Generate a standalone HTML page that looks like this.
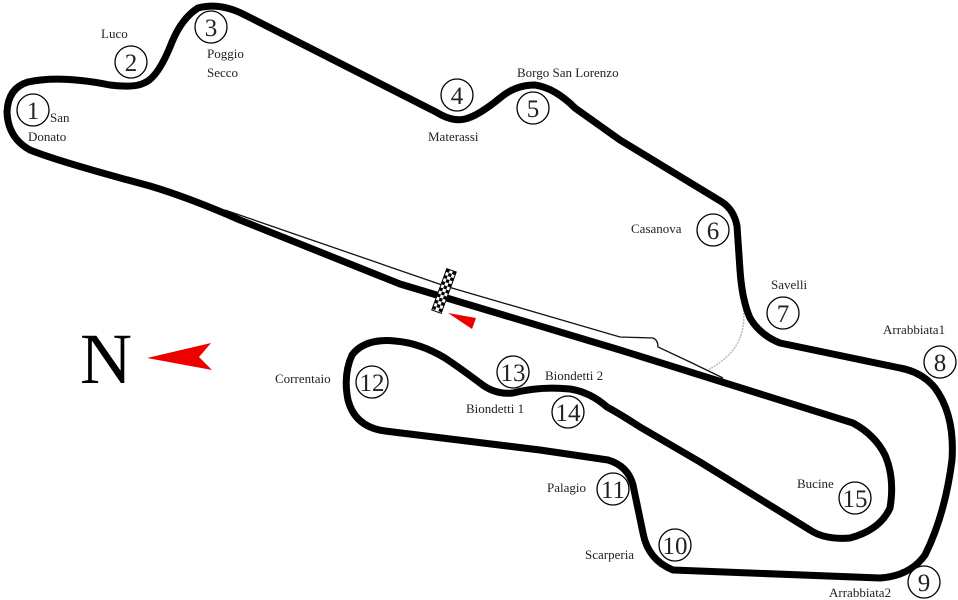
<!DOCTYPE html>
<html><head><meta charset="utf-8"><style>
html,body{margin:0;padding:0;background:#fff;}
svg{display:block;}
text{font-family:"Liberation Serif",serif;fill:#222;}
.l{font-size:13px;}
.n{font-size:25px;text-anchor:middle;}
</style></head><body>
<svg width="958" height="600" viewBox="0 0 958 600" xmlns="http://www.w3.org/2000/svg">
<!-- pit lane -->
<path d="M225,210 L445,286 L620,337 L653,338 Q658,340 658,347 L690,362 L723,378" fill="none" stroke="#111" stroke-width="1.3"/>
<path d="M742,298 Q746,320 741,335 Q735,355 708,370" fill="none" stroke="#bbb" stroke-width="1.5" stroke-dasharray="2,1"/>
<!-- main track -->
<path d="M400,284 L620,350 L853,423 Q875,435 885,455 Q895,478 890,508 Q880,530 850,538 Q825,540 810,530 L700,462 L640,427 Q620,414 607,407 Q590,392 570,389 Q540,386 513,393 Q495,395 480,383 Q460,368 445,358 Q420,343 395,341 Q365,338 352,355 Q343,375 348,400 Q355,427 385,431 L540,450 L608,460 Q628,466 633,485 L643,533 Q648,560 673,570 L880,578 Q910,576 925,555 Q945,515 952,460 Q955,415 935,388 Q922,372 900,368 L780,343 Q760,335 750,318 Q742,300 740,270 L737,226 Q734,210 722,202 L620,140 L575,108 Q555,88 535,85 Q515,85 500,98 Q478,116 465,119 Q452,122 436,112 L245,15 Q220,2 198,8 Q182,18 172,42 Q158,78 144,83 Q135,88 110,85 Q60,75 28,82 Q8,88 7,112 Q8,138 30,150 Q60,162 150,186 Q190,198 240,220 L400,284 Z" fill="none" stroke="#000" stroke-width="7" stroke-linejoin="round"/>
<!-- checkered flag -->
<g transform="translate(444,291) rotate(20)">
<rect x="-5" y="-22" width="10" height="44" fill="#fff" stroke="#000" stroke-width="1"/>
<g fill="#000">
<rect x="-5" y="-22" width="3.3" height="3.3"/><rect x="1.6" y="-22" width="3.3" height="3.3"/>
<rect x="-1.7" y="-18.7" width="3.3" height="3.3"/>
<rect x="-5" y="-15.4" width="3.3" height="3.3"/><rect x="1.6" y="-15.4" width="3.3" height="3.3"/>
<rect x="-1.7" y="-12.1" width="3.3" height="3.3"/>
<rect x="-5" y="-8.8" width="3.3" height="3.3"/><rect x="1.6" y="-8.8" width="3.3" height="3.3"/>
<rect x="-1.7" y="-5.5" width="3.3" height="3.3"/>
<rect x="-5" y="-2.2" width="3.3" height="3.3"/><rect x="1.6" y="-2.2" width="3.3" height="3.3"/>
<rect x="-1.7" y="1.1" width="3.3" height="3.3"/>
<rect x="-5" y="4.4" width="3.3" height="3.3"/><rect x="1.6" y="4.4" width="3.3" height="3.3"/>
<rect x="-1.7" y="7.7" width="3.3" height="3.3"/>
<rect x="-5" y="11" width="3.3" height="3.3"/><rect x="1.6" y="11" width="3.3" height="3.3"/>
<rect x="-1.7" y="14.3" width="3.3" height="3.3"/>
<rect x="-5" y="17.6" width="3.3" height="3.3"/><rect x="1.6" y="17.6" width="3.3" height="3.3"/>
</g></g>
<polygon points="448,313 476,318 472,329" fill="#e00"/>
<!-- North -->
<text x="80" y="383" style="font-size:72px;fill:#000;">N</text>
<polygon points="147,358 211,343 199,357 212,370" fill="#e00"/>
<!-- turn circles -->
<g fill="#fff" stroke="#000" stroke-width="1.3">
<circle cx="33" cy="110" r="16"/><circle cx="131" cy="62" r="16"/><circle cx="211" cy="27" r="16"/>
<circle cx="457" cy="95" r="16"/><circle cx="533" cy="108" r="16"/><circle cx="713" cy="230" r="16"/>
<circle cx="783" cy="313" r="16"/><circle cx="940" cy="362" r="16"/><circle cx="924" cy="582" r="16"/>
<circle cx="675" cy="545" r="16"/><circle cx="613" cy="489" r="16"/><circle cx="372" cy="382" r="16"/>
<circle cx="513" cy="372" r="16"/><circle cx="568" cy="412" r="16"/><circle cx="855" cy="498" r="16"/>
</g>
<g class="n">
<text x="33" y="119" class="n">1</text><text x="131" y="71" class="n">2</text><text x="211" y="36" class="n">3</text>
<text x="457" y="104" class="n">4</text><text x="533" y="117" class="n">5</text><text x="713" y="239" class="n">6</text>
<text x="783" y="322" class="n">7</text><text x="940" y="371" class="n">8</text><text x="924" y="591" class="n">9</text>
<text x="675" y="554" class="n">10</text><text x="613" y="498" class="n">11</text><text x="372" y="391" class="n">12</text>
<text x="513" y="381" class="n">13</text><text x="568" y="421" class="n">14</text><text x="855" y="507" class="n">15</text>
</g>
<!-- labels -->
<g class="l">
<text x="101" y="38" class="l">Luco</text>
<text x="207" y="58" class="l">Poggio</text><text x="207" y="77" class="l">Secco</text>
<text x="50" y="122" class="l">San</text><text x="28" y="141" class="l">Donato</text>
<text x="428" y="141" class="l">Materassi</text>
<text x="517" y="77" class="l">Borgo San Lorenzo</text>
<text x="631" y="233" class="l">Casanova</text>
<text x="771" y="289" class="l">Savelli</text>
<text x="883" y="334" class="l">Arrabbiata1</text>
<text x="829" y="597" class="l">Arrabbiata2</text>
<text x="585" y="559" class="l">Scarperia</text>
<text x="547" y="492" class="l">Palagio</text>
<text x="275" y="383" class="l">Correntaio</text>
<text x="545" y="380" class="l">Biondetti 2</text>
<text x="466" y="413" class="l">Biondetti 1</text>
<text x="797" y="488" class="l">Bucine</text>
</g>
</svg>
</body></html>
